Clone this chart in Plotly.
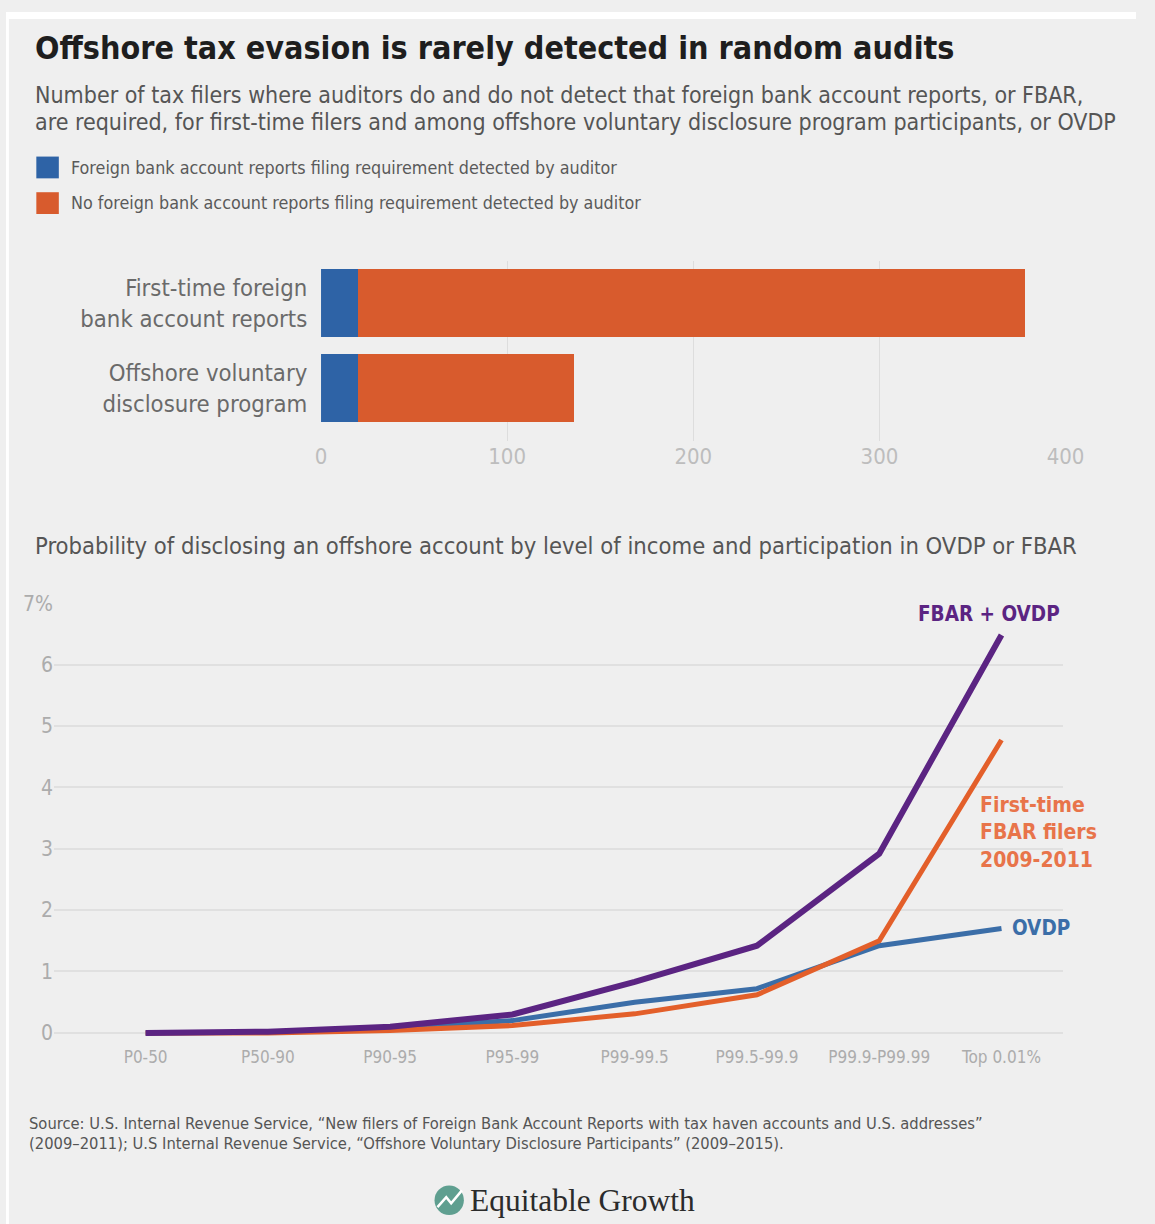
import plotly.graph_objects as go

W, H = 1155, 1224

def px(x):
    return x / W

def py(y):
    return 1 - y / H

# ---------------- data ----------------
bar_categories = ["First-time foreign<br>bank account reports",
                  "Offshore voluntary<br>disclosure program"]
detected = [20, 20]
not_detected = [358, 116]
bar_ticks = [0, 100, 200, 300, 400]

income_groups = ["P0-50", "P50-90", "P90-95", "P95-99", "P99-99.5",
                 "P99.5-99.9", "P99.9-P99.99", "Top 0.01%"]
fbar_ovdp = [0.0, 0.02, 0.10, 0.30, 0.83, 1.42, 2.92, 6.48]
first_time_fbar = [0.0, 0.0, 0.04, 0.12, 0.31, 0.62, 1.50, 4.77]
ovdp = [0.0, 0.01, 0.08, 0.20, 0.50, 0.72, 1.42, 1.70]
y_ticks = [0, 1, 2, 3, 4, 5, 6, 7]
y_tick_text = ["0", "1", "2", "3", "4", "5", "6", "7%"]

# ---------------- style ----------------
BG = "#efefef"
NARROW = "Liberation Sans Narrow, DejaVu Sans Condensed, Roboto Condensed, Roboto, sans-serif"
BAR_BLUE = "#2e63a6"
BAR_ORANGE = "#d85b2d"
PURPLE = "#5b2482"
L_ORANGE = "#e35f2a"
L_BLUE = "#3b6ea8"

fig = go.Figure()

# stacked bars
fig.add_trace(go.Bar(y=bar_categories, x=detected, orientation="h",
                     marker=dict(color=BAR_BLUE, line=dict(width=0)),
                     xaxis="x", yaxis="y", showlegend=False))
fig.add_trace(go.Bar(y=bar_categories, x=not_detected, orientation="h",
                     marker=dict(color=BAR_ORANGE, line=dict(width=0)),
                     xaxis="x", yaxis="y", showlegend=False))

# lines
fig.add_trace(go.Scatter(x=income_groups, y=ovdp, mode="lines",
                         line=dict(color=L_BLUE, width=5),
                         xaxis="x2", yaxis="y2", showlegend=False))
fig.add_trace(go.Scatter(x=income_groups, y=first_time_fbar, mode="lines",
                         line=dict(color=L_ORANGE, width=5),
                         xaxis="x2", yaxis="y2", showlegend=False))
fig.add_trace(go.Scatter(x=income_groups, y=fbar_ovdp, mode="lines",
                         line=dict(color=PURPLE, width=6),
                         xaxis="x2", yaxis="y2", showlegend=False))

annotations = []

def text(x, y, s, size, color, anchor="left", bold=False, family=NARROW, align="left", yanchor="middle"):
    if bold:
        s = "<b>" + s + "</b>"
    annotations.append(dict(x=px(x), y=py(y), xref="paper", yref="paper", text=s,
                            showarrow=False, xanchor=anchor, yanchor=yanchor, align=align,
                            font=dict(family=family, size=size, color=color)))

text(28, 36, "Offshore tax evasion is rarely detected in random audits", 32, "#1e1e1e", bold=True)
text(28, 84, "Number of tax filers where auditors do and do not detect that foreign bank account reports, or FBAR,", 23, "#555555")
text(28, 111, "are required, for first-time filers and among offshore voluntary disclosure program participants, or OVDP", 23, "#555555")
text(64, 157, "Foreign bank account reports filing requirement detected by auditor", 17.8, "#5a5a5a")
text(64, 192, "No foreign bank account reports filing requirement detected by auditor", 17.8, "#5a5a5a")
text(28, 539, "Probability of disclosing an offshore account by level of income and participation in OVDP or FBAR", 23.6, "#555555")

text(1005, 608, "FBAR + OVDP", 20.5, PURPLE, anchor="center", bold=True)
text(993, 829, "First-time<br>FBAR filers<br>2009-2011", 21, "#e8744a", bold=True)
text(1026, 925, "OVDP", 20.5, L_BLUE, bold=True)

text(21, 1123, "Source: U.S. Internal Revenue Service, \u201cNew filers of Foreign Bank Account Reports with tax haven accounts and U.S. addresses\u201d", 16.4, "#555555")
text(21, 1143, "(2009\u20132011); U.S Internal Revenue Service, \u201cOffshore Voluntary Disclosure Participants\u201d (2009\u20132015).", 16.4, "#555555")

text(472, 1200, "Equitable Growth", 31.5, "#2b2b2b", family="Liberation Serif, DejaVu Serif, serif")

shapes = [
    # white outer strips
    dict(type="rect", xref="paper", yref="paper", x0=0, x1=1, y0=py(7), y1=1,
         fillcolor="white", line=dict(width=0), layer="below"),
    dict(type="rect", xref="paper", yref="paper", x0=0, x1=px(3), y0=0, y1=1,
         fillcolor="white", line=dict(width=0), layer="below"),
    # legend swatches
    dict(type="rect", xref="paper", yref="paper", x0=px(31), x1=px(54), y0=py(168), y1=py(146),
         fillcolor=BAR_BLUE, line=dict(width=0)),
    dict(type="rect", xref="paper", yref="paper", x0=px(31), x1=px(54), y0=py(204), y1=py(182),
         fillcolor=BAR_ORANGE, line=dict(width=0)),
    # logo circle
    dict(type="circle", xref="paper", yref="paper", x0=px(438), x1=px(468), y0=py(1215), y1=py(1185),
         fillcolor="#5f9f90", line=dict(width=0)),
    dict(type="path", xref="paper", yref="paper",
         path="M {} {} L {} {} L {} {} L {} {}".format(px(441), py(1207), px(450), py(1197),
                                                       px(455), py(1203), px(466), py(1190)),
         line=dict(color="white", width=2.5)),
]

fig.update_layout(
    width=W, height=H,
    margin=dict(l=0, r=0, t=0, b=0),
    paper_bgcolor=BG, plot_bgcolor=BG,
    barmode="stack", bargap=0.21,
    annotations=annotations, shapes=shapes,
    xaxis=dict(domain=[px(322), px(1083)], range=[0, 400], tickvals=bar_ticks,
               showgrid=True, gridcolor="#dddddd", gridwidth=1, zeroline=False,
               showline=False, ticks="", anchor="y",
               tickfont=dict(family=NARROW, size=22, color="#bdbdbd")),
    yaxis=dict(domain=[py(433), py(251)], type="category", categoryarray=bar_categories,
               range=[1.62, -0.5], showgrid=False, zeroline=False, showline=False,
               ticks="outside", ticklen=8, tickcolor="rgba(0,0,0,0)", anchor="x",
               tickfont=dict(family=NARROW, size=23.7, color="#6a6a6a")),
    xaxis2=dict(domain=[px(49), px(1080)], type="category", categoryarray=income_groups,
                range=[-0.75, 7.5], showgrid=False, zeroline=False, showline=False,
                ticks="", anchor="y2",
                tickfont=dict(family=NARROW, size=17, color="#acacac")),
    yaxis2=dict(domain=[py(1043.4), py(597)], range=[-0.2, 7.0], tickvals=y_ticks,
                ticktext=y_tick_text, showgrid=True, gridcolor="#e0e0e0", gridwidth=1.5,
                zeroline=False, showline=False, ticks="", anchor="x2",
                tickfont=dict(family=NARROW, size=21, color="#acacac")),
)

fig.write_html("out.html")
